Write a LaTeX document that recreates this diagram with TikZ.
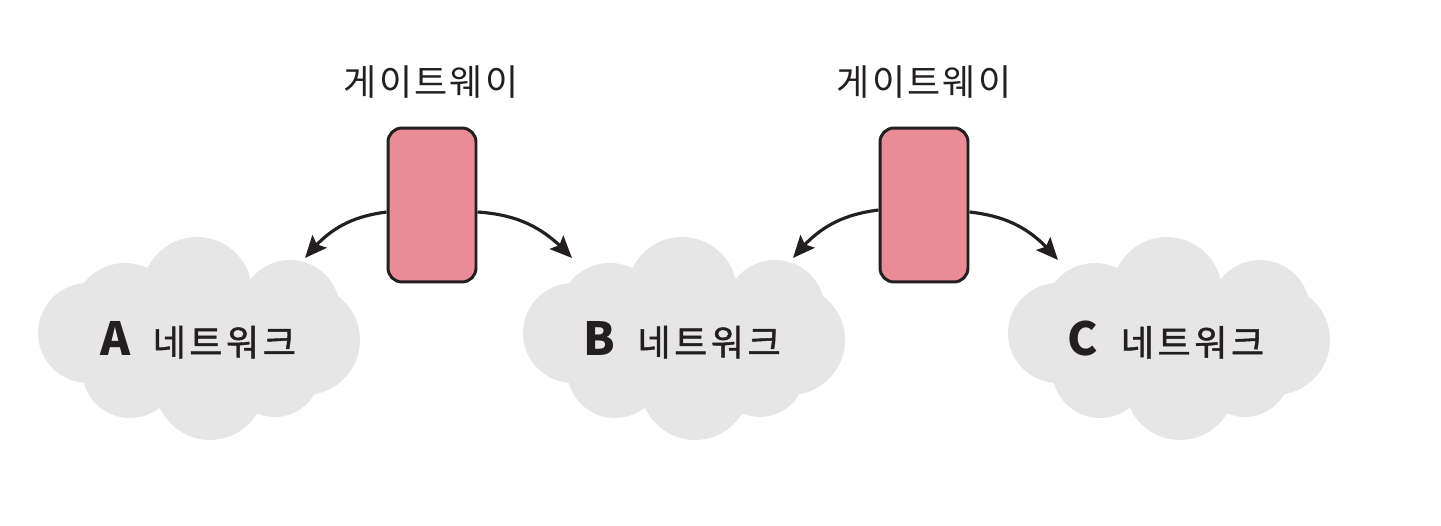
\documentclass[tikz,border=0pt]{standalone}
\usepackage{fontspec}
\setmainfont{Noto Sans CJK KR}
\newfontfamily\kfont[LetterSpace=6]{Noto Sans CJK KR}
\newfontfamily\kwide[LetterSpace=10,FakeBold=1.2]{Noto Sans CJK KR}
\newfontfamily\latinbold{Noto Sans CJK KR}
\usetikzlibrary{arrows.meta,bending}
\definecolor{cloudgray}{HTML}{E6E6E6}
\definecolor{gwpink}{HTML}{E98C96}
\definecolor{inkblack}{HTML}{231F20}
\tikzset{
  gwbox/.style={draw=inkblack, fill=gwpink, line width=1.7pt, rounded corners=0.28cm,
    minimum width=1.76cm, minimum height=3.08cm, inner sep=0pt},
  gwlabel/.style={font=\kfont\fontsize{20.5pt}{24pt}\selectfont, text=inkblack, inner sep=0pt},
  netlabel/.style={font=\kwide\fontsize{20.5pt}{24pt}\selectfont, text=inkblack, inner sep=0pt},
  link/.style={draw=inkblack, line width=1.8pt, -{Stealth[length=0.44cm,width=0.38cm,inset=0.08cm]}},
  pics/netcloud/.style={code={
    \fill[cloudgray]
      (-109,-7) circle[radius=1.0cm]
      (-72,-25) circle[radius=1.04cm]
      (0,-48) circle[radius=1.1cm]
      (93,-30) circle[radius=1.0cm]
      (108,0) circle[radius=1.1cm]
      (-67,30) circle[radius=0.96cm]
      (13,45) circle[radius=1.1cm]
      (78,32) circle[radius=0.9cm]
      (-100,-30) rectangle (100,40);
  }}
}
\newcommand{\netletter}[1]{{\latinbold\bfseries\fontsize{26pt}{28pt}\selectfont #1}\hspace{0.45cm}}
\begin{document}
\begin{tikzpicture}[x=0.02cm,y=-0.02cm]
\useasboundingbox (0,0) rectangle (1441,526);
% clouds
\pic at (197,340) {netcloud};
\pic at (682,340) {netcloud};
\pic at (1167,340) {netcloud};
\node[netlabel] (netA) at (198,340) {\netletter{A}네트워크};
\node[netlabel] (netB) at (682,340) {\netletter{B}네트워크};
\node[netlabel] (netC) at (1166,340) {\netletter{C}네트워크};
% arrow targets on cloud edges
\coordinate (tipA) at (305,258);
\coordinate (tipBl) at (572,258);
\coordinate (tipBr) at (793,258);
\coordinate (tipC) at (1058,260);
% gateways
\node[gwbox] (gw1) at (432,205) {};
\node[gwbox] (gw2) at (924,205) {};
\node[gwlabel] (lab1) at (431,82) {게이트웨이};
\node[gwlabel] (lab2) at (924,82) {게이트웨이};
% connectors
\draw[link] ([yshift=-0.14cm]gw1.west) to[bend right=22] (tipA);
\draw[link] ([yshift=-0.14cm]gw1.east) to[bend left=22] (tipBl);
\draw[link] ([yshift=-0.1cm]gw2.west) to[bend right=22] (tipBr);
\draw[link] ([yshift=-0.14cm]gw2.east) to[bend left=22] (tipC);
\end{tikzpicture}
\end{document}
